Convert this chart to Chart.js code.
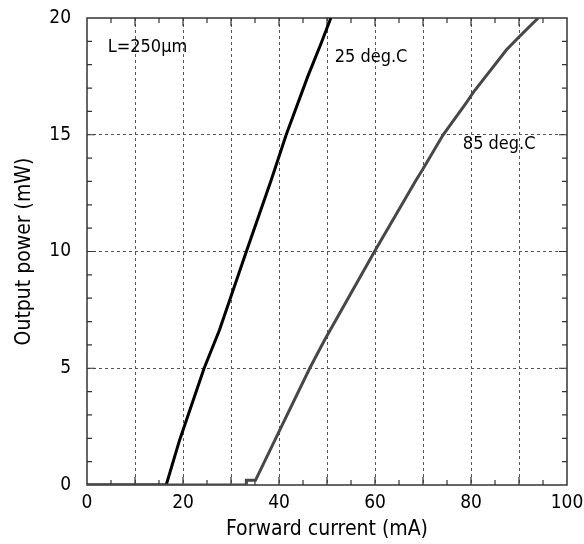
<!DOCTYPE html>
<html>
<head>
<meta charset="utf-8">
<script src="https://cdn.jsdelivr.net/npm/chart.js@4.4.0/dist/chart.umd.min.js"></script>
<style>
  html, body { margin: 0; padding: 0; background: #fff; }
</style>
</head>
<body>
<canvas id="lpChart" width="584" height="544"></canvas>
<script>
// L-I curves (mA, mW)
const current25 = [0, 16.5, 19.3, 24.4, 27.6, 33.2, 38.4, 41.5, 46.0, 48.8, 50.8];
const power25   = [0, 0, 1.93, 5.0, 6.64, 10.0, 13.07, 15.0, 17.5, 18.93, 20.0];
const current85 = [0, 33.2, 33.2, 35.1, 39.8, 46.4, 49.5, 59.9, 68.6, 69.9, 74.2, 79.0, 80.4, 87.4, 90.1, 94.0];
const power85   = [0, 0, 0.2, 0.2, 2.2, 5.0, 6.21, 10.0, 13.07, 13.5, 15.0, 16.36, 16.79, 18.64, 19.21, 20.0];

const noteTexts = ['L=250\u03bcm', '25 deg.C', '85 deg.C'];
const noteX = [4.3, 51.6, 78.3];
const noteY = [18.75, 18.3, 14.6];

const FONT = '"DejaVu Sans Condensed", "Liberation Sans Narrow", "Liberation Sans", sans-serif';

function toPoints(xs, ys) {
    return xs.map((x, i) => ({ x: x, y: ys[i] }));
}

// inward ticks + frame, like the original plot
const frameTicks = {
    id: 'frameTicks',
    beforeDatasetsDraw(chart) {
        const { ctx, chartArea: a, scales: { x, y } } = chart;
        ctx.save();
        ctx.strokeStyle = '#333';
        ctx.lineWidth = 1.2;
        ctx.beginPath();
        for (let v = 5; v < 100; v += 5) {
            const px = x.getPixelForValue(v);
            const len = v % 10 === 0 ? 8 : 5;
            ctx.moveTo(px, a.bottom); ctx.lineTo(px, a.bottom - len);
            ctx.moveTo(px, a.top); ctx.lineTo(px, a.top + len);
        }
        for (let v = 1; v < 20; v++) {
            const py = y.getPixelForValue(v);
            const len = v % 5 === 0 ? 8 : 5;
            ctx.moveTo(a.left, py); ctx.lineTo(a.left + len, py);
            ctx.moveTo(a.right, py); ctx.lineTo(a.right - len, py);
        }
        ctx.stroke();
        ctx.lineWidth = 1.5;
        ctx.strokeRect(a.left, a.top, a.right - a.left, a.bottom - a.top);
        ctx.restore();
    },
    afterDatasetsDraw(chart) {
        const { ctx, scales: { x, y } } = chart;
        ctx.save();
        ctx.fillStyle = '#000';
        ctx.font = '18px ' + FONT;
        ctx.textAlign = 'left';
        ctx.textBaseline = 'middle';
        noteTexts.forEach((t, i) => {
            ctx.fillText(t, x.getPixelForValue(noteX[i]), y.getPixelForValue(noteY[i]));
        });
        ctx.restore();
    }
};

const ctx = document.getElementById('lpChart').getContext('2d');
new Chart(ctx, {
    type: 'line',
    data: {
        datasets: [
            {
                label: '85 deg.C',
                data: toPoints(current85, power85),
                borderColor: '#474747',
                borderWidth: 3,
                pointRadius: 0,
                tension: 0,
                fill: false
            },
            {
                label: '25 deg.C',
                data: toPoints(current25, power25),
                borderColor: '#000',
                borderWidth: 3,
                pointRadius: 0,
                tension: 0,
                fill: false
            }
        ]
    },
    options: {
        responsive: false,
        animation: false,
        layout: { padding: { left: 0, right: 17, top: 18, bottom: 0 } },
        plugins: { legend: { display: false }, tooltip: { enabled: false } },
        scales: {
            x: {
                type: 'linear',
                min: 0,
                max: 100,
                afterFit(scale) {
                    scale.height = 59;
                    scale.paddingLeft = 0;
                    scale.paddingRight = 0;
                },
                ticks: {
                    stepSize: 10,
                    autoSkip: false,
                    maxRotation: 0,
                    padding: 7,
                    color: '#000',
                    font: { family: FONT, size: 19 },
                    callback: v => (v % 20 === 0 ? v : '')
                },
                grid: {
                    drawTicks: false,
                    lineWidth: 1,
                    color: c => (c.tick && (c.tick.value === 0 || c.tick.value === 100)) ? 'rgba(0,0,0,0)' : '#555'
                },
                border: { display: false, dash: [3, 3] },
                title: {
                    display: true,
                    text: 'Forward current (mA)',
                    color: '#000',
                    font: { family: FONT, size: 21 },
                    padding: { top: 0, bottom: 2 }
                }
            },
            y: {
                type: 'linear',
                min: 0,
                max: 20,
                afterFit(scale) {
                    scale.width = 87;
                    scale.paddingTop = 0;
                    scale.paddingBottom = 0;
                },
                ticks: {
                    stepSize: 5,
                    padding: 16,
                    color: '#000',
                    font: { family: FONT, size: 19 }
                },
                grid: {
                    drawTicks: false,
                    lineWidth: 1,
                    color: c => (c.tick && (c.tick.value === 0 || c.tick.value === 20)) ? 'rgba(0,0,0,0)' : '#555'
                },
                border: { display: false, dash: [3, 3] },
                title: {
                    display: true,
                    text: 'Output power (mW)',
                    color: '#000',
                    font: { family: FONT, size: 21 },
                    padding: { top: 12, bottom: 0 }
                }
            }
        }
    },
    plugins: [frameTicks]
});
</script>
</body>
</html>
